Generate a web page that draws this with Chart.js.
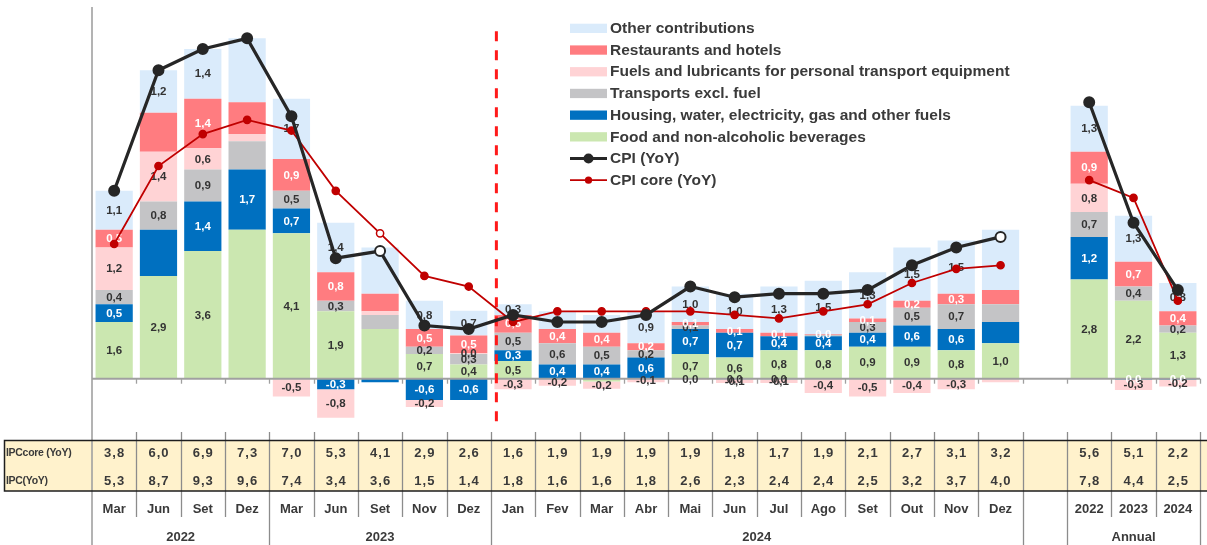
<!DOCTYPE html>
<html><head><meta charset="utf-8">
<script src="https://cdn.jsdelivr.net/npm/chart.js@4.4.1/dist/chart.umd.min.js"></script>
<style>html,body{margin:0;padding:0;background:#fff;overflow:hidden}#wrap{width:1207px;height:545px;position:relative}canvas{display:block}</style>
</head><body><div id="wrap"><canvas id="c" width="1207" height="545"></canvas></div>
<script>
// ---------- DATA ----------
const categories = ['Mar','Jun','Set','Dez','Mar','Jun','Set','Nov','Dez','Jan','Fev','Mar','Abr','Mai','Jun','Jul','Ago','Set','Out','Nov','Dez','','2022','2023','2024'];
const yearGroups = [
  {label:'2022', from:0, to:3},
  {label:'2023', from:4, to:8},
  {label:'2024', from:9, to:20},
  {label:'', from:21, to:21},
  {label:'Annual', from:22, to:24}
];
const food        = [1.6, 2.9, 3.6, 4.2, 4.1, 1.9, 1.4, 0.7, 0.4, 0.5, 0.0, -0.08, 0.0, 0.7, 0.6, 0.8, 0.8, 0.9, 0.9, 0.8, 1.0, null, 2.8, 2.2, 1.3];
const housing     = [0.5, 1.3, 1.4, 1.7, 0.7, -0.3, -0.1, -0.6, -0.6, 0.3, 0.4, 0.4, 0.6, 0.7, 0.7, 0.4, 0.4, 0.4, 0.6, 0.6, 0.6, null, 1.2, -0.02, -0.02];
const transports  = [0.4, 0.8, 0.9, 0.8, 0.5, 0.3, 0.4, 0.2, 0.3, 0.5, 0.6, 0.5, 0.2, 0.1, -0.02, -0.02, 0.04, 0.3, 0.5, 0.7, 0.5, null, 0.7, 0.4, 0.2];
const fuels       = [1.2, 1.4, 0.6, 0.2, -0.5, -0.8, 0.1, -0.2, 0.02, -0.3, -0.2, -0.2, -0.1, -0.02, -0.1, -0.1, -0.4, -0.5, -0.4, -0.3, -0.1, null, 0.8, -0.3, -0.2];
const restaurants = [0.5, 1.1, 1.4, 0.9, 0.9, 0.8, 0.5, 0.5, 0.5, 0.5, 0.4, 0.4, 0.2, 0.1, 0.1, 0.1, 0.02, 0.1, 0.2, 0.3, 0.4, null, 0.9, 0.7, 0.4];
const other       = [1.1, 1.2, 1.4, 1.8, 1.7, 1.4, 1.3, 0.8, 0.7, 0.3, 0.5, 0.5, 0.9, 1.0, 1.0, 1.3, 1.5, 1.3, 1.5, 1.5, 1.7, null, 1.3, 1.3, 0.8];
const cpi         = [5.3, 8.7, 9.3, 9.6, 7.4, 3.4, 3.6, 1.5, 1.4, 1.8, 1.6, 1.6, 1.8, 2.6, 2.3, 2.4, 2.4, 2.5, 3.2, 3.7, 4.0, null, 7.8, 4.4, 2.5];
const cpiCore     = [3.8, 6.0, 6.9, 7.3, 7.0, 5.3, 4.1, 2.9, 2.6, 1.6, 1.9, 1.9, 1.9, 1.9, 1.8, 1.7, 1.9, 2.1, 2.7, 3.1, 3.2, null, 5.6, 5.1, 2.2];
const tableRowLabels = ['IPCcore (YoY)', 'IPC(YoY)'];
// segments whose value label is not shown in the original
const hiddenLabels = {
  food:[3,6,10,11,12], housing:[1,6,20], transports:[3,6,16,20],
  fuels:[3,6,20], restaurants:[1,3,6,20], other:[3,6,10,11,20]
};
const hollowCpi = [6,20];
const hollowCore = [6];

// ---------- STYLE ----------
const FONT = '"Liberation Sans", Arial, sans-serif';
const COL = {
  food:'#CBE7B0', housing:'#0070C0', transports:'#C4C4C6',
  fuels:'#FFD3D5', restaurants:'#FF7C80', other:'#DAEBFB',
  cpi:'#262626', core:'#C00000', beige:'#FFF2CC', axis:'#A0A0A0', text:'#3A3A3A'
};
const barDefs = [
  {key:'food', label:'Food and non-alcoholic beverages', data:food, txt:'#333333'},
  {key:'housing', label:'Housing, water, electricity, gas and other fuels', data:housing, txt:'#FFFFFF'},
  {key:'transports', label:'Transports excl. fuel', data:transports, txt:'#333333'},
  {key:'fuels', label:'Fuels and lubricants for personal transport equipment', data:fuels, txt:'#333333'},
  {key:'restaurants', label:'Restaurants and hotels', data:restaurants, txt:'#FFFFFF'},
  {key:'other', label:'Other contributions', data:other, txt:'#333333'}
];
const fmt = v => (Math.abs(v) < 0.05 ? '0,0' : v.toFixed(1).replace('.', ','));

const datasets = barDefs.map(b => ({
  type:'bar', label:b.label, data:b.data, backgroundColor:COL[b.key], borderWidth:0,
  stack:'bars', order:2, barPercentage:0.84, categoryPercentage:1.0
}));
datasets.push({
  type:'line', label:'CPI (YoY)', data:cpi, stack:'l1', order:0,
  borderColor:COL.cpi, borderWidth:3.2, tension:0, spanGaps:false,
  pointRadius:5, pointBorderWidth:2, pointBorderColor:COL.cpi,
  pointBackgroundColor: cpi.map((v,i)=> hollowCpi.includes(i) ? '#FFFFFF' : COL.cpi)
});
datasets.push({
  type:'line', label:'CPI core (YoY)', data:cpiCore, stack:'l2', order:1,
  borderColor:COL.core, borderWidth:1.8, tension:0, spanGaps:false,
  pointRadius:3.6, pointBorderWidth:1.5, pointBorderColor:COL.core,
  pointBackgroundColor: cpiCore.map((v,i)=> hollowCore.includes(i) ? '#FFFFFF' : COL.core)
});

function boundary(chart, k){ // pixel x of boundary before category k
  const x = chart.scales.x;
  const w = (chart.chartArea.right - chart.chartArea.left) / categories.length;
  return chart.chartArea.left + k * w;
}

const decoPlugin = {
  id:'deco',
  afterDatasetDraw(chart, args){
    if (args.index !== 0) return; // after last bar dataset drawn, before lines
    const ctx = chart.ctx, ca = chart.chartArea, ys = chart.scales.y;
    const y0 = ys.getPixelForValue(0);
    ctx.save();
    // zero line + ticks
    ctx.strokeStyle = COL.axis; ctx.lineWidth = 2;
    ctx.beginPath(); ctx.moveTo(ca.left, y0); ctx.lineTo(ca.right, y0); ctx.stroke();
    ctx.lineWidth = 1.3;
    for (let k=1;k<=categories.length;k++){
      const bx = Math.round(boundary(chart,k))+0.5;
      ctx.beginPath(); ctx.moveTo(bx, y0); ctx.lineTo(bx, y0+5); ctx.stroke();
    }
    // dashed separator
    const dx = (chart.scales.x.getPixelForValue(8) + chart.scales.x.getPixelForValue(9))/2 + 5.5;
    ctx.strokeStyle = '#FF1A1A'; ctx.lineWidth = 3; ctx.setLineDash([10,9]);
    ctx.beginPath(); ctx.moveTo(dx, ys.getPixelForValue(9.8)); ctx.lineTo(dx, ys.getPixelForValue(-1.45)); ctx.stroke();
    ctx.setLineDash([]);
    // segment labels
    ctx.font = 'bold 11.5px ' + FONT; ctx.textAlign = 'center'; ctx.textBaseline = 'middle';
    barDefs.forEach((b, di) => {
      const meta = chart.getDatasetMeta(di);
      meta.data.forEach((el, i) => {
        const v = b.data[i];
        if (v === null || hiddenLabels[b.key].includes(i)) return;
        ctx.fillStyle = b.txt;
        ctx.fillText(fmt(v), el.x, (el.y + el.base)/2 + 0.5);
      });
    });
    ctx.restore();
  },
  afterDraw(chart){
    const ctx = chart.ctx, ca = chart.chartArea, xs = chart.scales.x;
    ctx.save();
    const tTop = 440.5, tBot = 491, monthBot = 517, H = 545;
    // table background
    ctx.fillStyle = COL.beige; ctx.fillRect(4.5, tTop, 1207-4.5, tBot - tTop);
    // internal vertical lines / ticks
    ctx.strokeStyle = '#8C8C8C'; ctx.lineWidth = 1.3;
    const groupStarts = yearGroups.map(g=>g.from).concat([categories.length]);
    for (let k=1;k<=categories.length;k++){
      const bx = Math.round(boundary(chart,k))+0.5;
      const bottom = groupStarts.includes(k) ? H : monthBot;
      ctx.beginPath(); ctx.moveTo(bx, 432); ctx.lineTo(bx, bottom); ctx.stroke();
    }
    // left axis
    ctx.strokeStyle = COL.axis; ctx.lineWidth = 1.6;
    ctx.beginPath(); ctx.moveTo(ca.left, 7); ctx.lineTo(ca.left, H); ctx.stroke();
    // table border
    ctx.strokeStyle = '#1E1E1E'; ctx.lineWidth = 1.5;
    ctx.beginPath();
    ctx.moveTo(1207, tTop); ctx.lineTo(4.5, tTop); ctx.lineTo(4.5, tBot); ctx.lineTo(1207, tBot);
    ctx.stroke();
    // table texts
    ctx.fillStyle = COL.text; ctx.textBaseline = 'middle';
    ctx.font = 'bold 10.5px ' + FONT; ctx.textAlign = 'left';
    ctx.letterSpacing = '-0.3px';
    ctx.fillText(tableRowLabels[0], 6, 453);
    ctx.fillText(tableRowLabels[1], 6, 481);
    ctx.letterSpacing = '1px';
    ctx.font = 'bold 13px ' + FONT; ctx.textAlign = 'center';
    categories.forEach((c,i)=>{
      const x = xs.getPixelForValue(i);
      if (cpiCore[i] !== null) ctx.fillText(cpiCore[i].toFixed(1).replace('.',','), x+0.5, 453);
      if (cpi[i] !== null) ctx.fillText(cpi[i].toFixed(1).replace('.',','), x+0.5, 481);
    });
    ctx.letterSpacing = '0px';
    categories.forEach((c,i)=>{ ctx.fillText(c, xs.getPixelForValue(i), 509); });
    yearGroups.forEach(g=>{
      const x = (boundary(chart,g.from) + boundary(chart,g.to+1))/2;
      ctx.fillText(g.label, x, 537);
    });
    // legend
    const order = [5,4,3,2,1,0,6,7];
    const lx = 570, sw = 37, tx = 610, ly0 = 28.3, step = 21.7;
    ctx.font = 'bold 15.5px ' + FONT; ctx.textAlign = 'left'; ctx.textBaseline = 'middle';
    order.forEach((di, r) => {
      const ds = chart.data.datasets[di];
      const y = ly0 + r*step;
      if (ds.type === 'bar') {
        ctx.fillStyle = ds.backgroundColor; ctx.fillRect(lx, y-4.6, sw, 9.3);
      } else {
        ctx.strokeStyle = ds.borderColor; ctx.lineWidth = ds.borderWidth;
        ctx.beginPath(); ctx.moveTo(lx, y); ctx.lineTo(lx+sw, y); ctx.stroke();
        ctx.fillStyle = ds.borderColor;
        ctx.beginPath(); ctx.arc(lx+sw/2, y, ds.pointRadius, 0, Math.PI*2); ctx.fill();
      }
      ctx.fillStyle = COL.text;
      ctx.fillText(ds.label, tx, y+0.5);
    });
    ctx.restore();
  }
};

new Chart(document.getElementById('c'), {
  type:'bar',
  data:{ labels:categories, datasets },
  options:{
    responsive:false, animation:false, devicePixelRatio:1,
    layout:{ padding:{ left:92, right:7, top:10, bottom:106 } },
    plugins:{ legend:{display:false}, tooltip:{enabled:false} },
    scales:{
      x:{ display:false, stacked:true, offset:true },
      y:{ display:false, stacked:true, min:-1.7, max:10.4 }
    }
  },
  plugins:[decoPlugin]
});
</script>
</body></html>
